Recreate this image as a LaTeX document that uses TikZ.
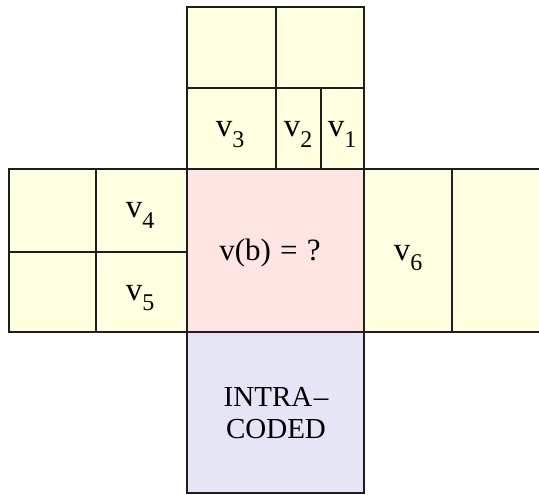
\documentclass[tikz,border=0pt]{standalone}
\usepackage{fontspec}
\setmainfont{Liberation Serif}
\definecolor{cellyellow}{RGB}{255,255,225}
\definecolor{cellpink}{RGB}{255,228,228}
\definecolor{celllav}{RGB}{229,229,245}
\definecolor{edge}{RGB}{30,30,30}
\tikzset{
  cell/.style={draw=edge, line width=1.3pt, fill=cellyellow},
  lbl/.style={inner sep=0pt, font=\fontsize{33}{35}\selectfont},
  big/.style={inner sep=0pt, font=\fontsize{29}{32}\selectfont, align=center}
}
\newcommand{\vsub}[1]{v\raisebox{-0.32em}{\fontsize{24}{26}\selectfont #1}}
\begin{document}
\begin{tikzpicture}[x=1pt,y=-1pt]
\useasboundingbox (0,0) rectangle (539,495);
\fill[white] (0,0) rectangle (539,495);
\clip (0,0) rectangle (539,495);
% top
\draw[cell] (187,7) rectangle (276,88);
\draw[cell] (276,7) rectangle (364,88);
\draw[cell] (187,88) rectangle (276,169);
\draw[cell] (276,88) rectangle (321,169);
\draw[cell] (321,88) rectangle (364,169);
% left
\draw[cell] (9,169) rectangle (96,252);
\draw[cell] (96,169) rectangle (187,252);
\draw[cell] (9,252) rectangle (96,332);
\draw[cell] (96,252) rectangle (187,332);
% center
\draw[cell, fill=cellpink] (187,169) rectangle (364,332);
% right
\draw[cell] (364,169) rectangle (452,332);
\draw[cell] (452,169) rectangle (545,332);
% bottom
\draw[cell, fill=celllav] (187,332) rectangle (364,493);
% labels
\node[lbl, anchor=base] (v3) at (230,137) {\vsub{3}};
\node[lbl, anchor=base] (v2) at (298,137) {\vsub{2}};
\node[lbl, anchor=base] (v1) at (342,137) {\vsub{1}};
\node[lbl, anchor=base] (v4) at (140,218) {\vsub{4}};
\node[lbl, anchor=base] (v5) at (140,300) {\vsub{5}};
\node[lbl, anchor=base] (v6) at (408,260) {\vsub{6}};
\node[inner sep=0pt, font=\fontsize{31}{33}\selectfont, anchor=base] (vb) at (270,260) {v(b)\hspace{0.3em}=\hspace{0.3em}?};
\node[big, anchor=base] (ia) at (276,406) {INTRA\hspace{0.05em}–};
\node[big, anchor=base] (ib) at (276,438) {CODED};
\end{tikzpicture}
\end{document}
